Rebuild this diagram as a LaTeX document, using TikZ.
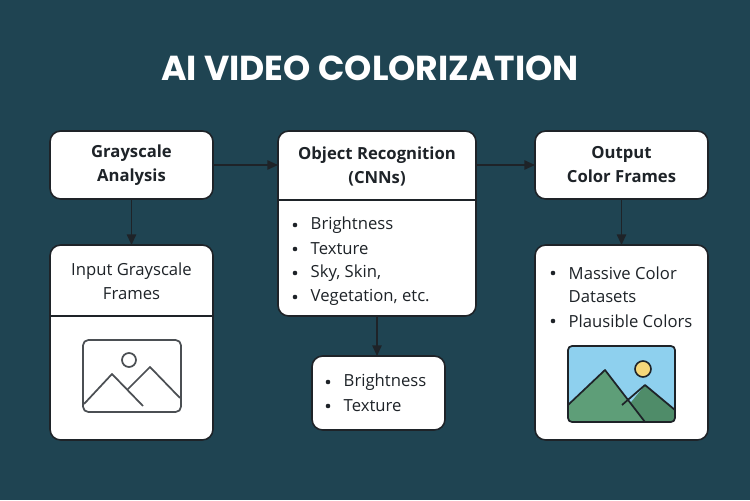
\documentclass[tikz,border=0pt]{standalone}
\usepackage{fontspec}
\setmainfont{Open Sans}
\newfontfamily\titlefont{Poppins}
\usetikzlibrary{arrows.meta}
\definecolor{bg}{HTML}{1F4452}
\definecolor{ink}{HTML}{1E2328}
\definecolor{sky}{HTML}{8ED0EE}
\definecolor{sun}{HTML}{F5D77A}
\definecolor{mnt}{HTML}{5E9E78}
\definecolor{mnt2}{HTML}{4F8C69}
\begin{document}
\begin{tikzpicture}[x=0.75pt,y=-0.75pt,
  card/.style={draw=ink,line width=1.2pt,fill=white,rounded corners=8pt},
  lbl/.style={font=\bfseries\fontsize{12.5}{18}\selectfont,text=ink,align=center},
  item/.style={font=\fontsize{12.5}{18}\selectfont,text=ink,align=left,anchor=west},
  arr/.style={-{Triangle[length=8pt,width=7pt]},line width=1.3pt,draw=ink}]
\fill[bg] (0,0) rectangle (750,500);
\useasboundingbox (0,0) rectangle (750,500);
\node[font=\titlefont\bfseries\fontsize{26}{30}\selectfont,text=white] (title) at (370,68) {AI VIDEO COLORIZATION};
% cards
\draw[card] (50,131) rectangle (213,199);
\node[lbl] (gat) at (131.5,165) {Grayscale\\Analysis};
\draw[card] (50,245) rectangle (213,440);
\draw[ink,line width=1.2pt] (50,316) -- (213,316);
\node[item,anchor=center,align=center] (igt) at (131.5,281) {Input Grayscale\\Frames};
\draw[card] (278,131) rectangle (476,316);
\draw[ink,line width=1.2pt] (278,200) -- (476,200);
\node[lbl] (ort) at (377,166) {Object Recognition\\(CNNs)};
\draw[card] (312,356) rectangle (445,430);
\draw[card] (535,131) rectangle (708,199);
\node[lbl] (oct) at (621.5,165) {Output\\Color Frames};
\draw[card] (535,245) rectangle (708,440);
% bullets
\foreach \t/\y in {Brightness/225,Texture/249,{Sky, Skin,}/273,{Vegetation, etc.}/297}{
  \fill[ink] (295,\y) circle (2.3);
  \node[item] at (306,\y) {\t};}
\foreach \t/\y in {Brightness/382,Texture/406}{
  \fill[ink] (328,\y) circle (2.3);
  \node[item] at (339,\y) {\t};}
\foreach \t/\y in {Massive Color/273,Plausible Colors/321}{
  \fill[ink] (553,\y) circle (2.3);
  \node[item] at (564,\y) {\t};}
\node[item] at (564,297) {Datasets};
% gray icon
\draw[ink!80,line width=1.3pt,rounded corners=4pt] (83,340) rectangle (181,412);
\draw[ink!80,line width=1.3pt] (129,360) circle (7);
\draw[ink!80,line width=1.3pt,line join=round] (84,404) -- (112,374) -- (143,406);
\draw[ink!80,line width=1.3pt,line join=round] (127,390) -- (150,367) -- (180,398);
% color icon
\begin{scope}
\clip[rounded corners=3pt] (568,346) rectangle (675,422);
\fill[sky] (568,346) rectangle (675,422);
\fill[mnt2] (615,422) -- (645,385) -- (675,410) -- (675,422) -- cycle;
\fill[mnt] (568,422) -- (568,405) -- (605,370) -- (645,422) -- cycle;
\end{scope}
\draw[ink,line width=1.3pt,line join=round] (568,405) -- (605,370) -- (645,422);
\draw[ink,line width=1.3pt,line join=round] (622,405) -- (645,385) -- (675,410);
\draw[ink,line width=1.3pt,rounded corners=3pt] (568,346) rectangle (675,422);
\draw[ink,line width=1.2pt,fill=sun] (643,369) circle (8);
% arrows
\coordinate (a1) at (213,165); \coordinate (a2) at (278,165);
\coordinate (b1) at (476,165); \coordinate (b2) at (535,165);
\coordinate (c1) at (131.5,199); \coordinate (c2) at (131.5,245);
\coordinate (d1) at (377,316); \coordinate (d2) at (377,356);
\coordinate (e1) at (621.5,199); \coordinate (e2) at (621.5,245);
\draw[arr] (a1) -- (a2);
\draw[arr] (b1) -- (b2);
\draw[arr] (c1) -- (c2);
\draw[arr] (d1) -- (d2);
\draw[arr] (e1) -- (e2);
\end{tikzpicture}
\end{document}
